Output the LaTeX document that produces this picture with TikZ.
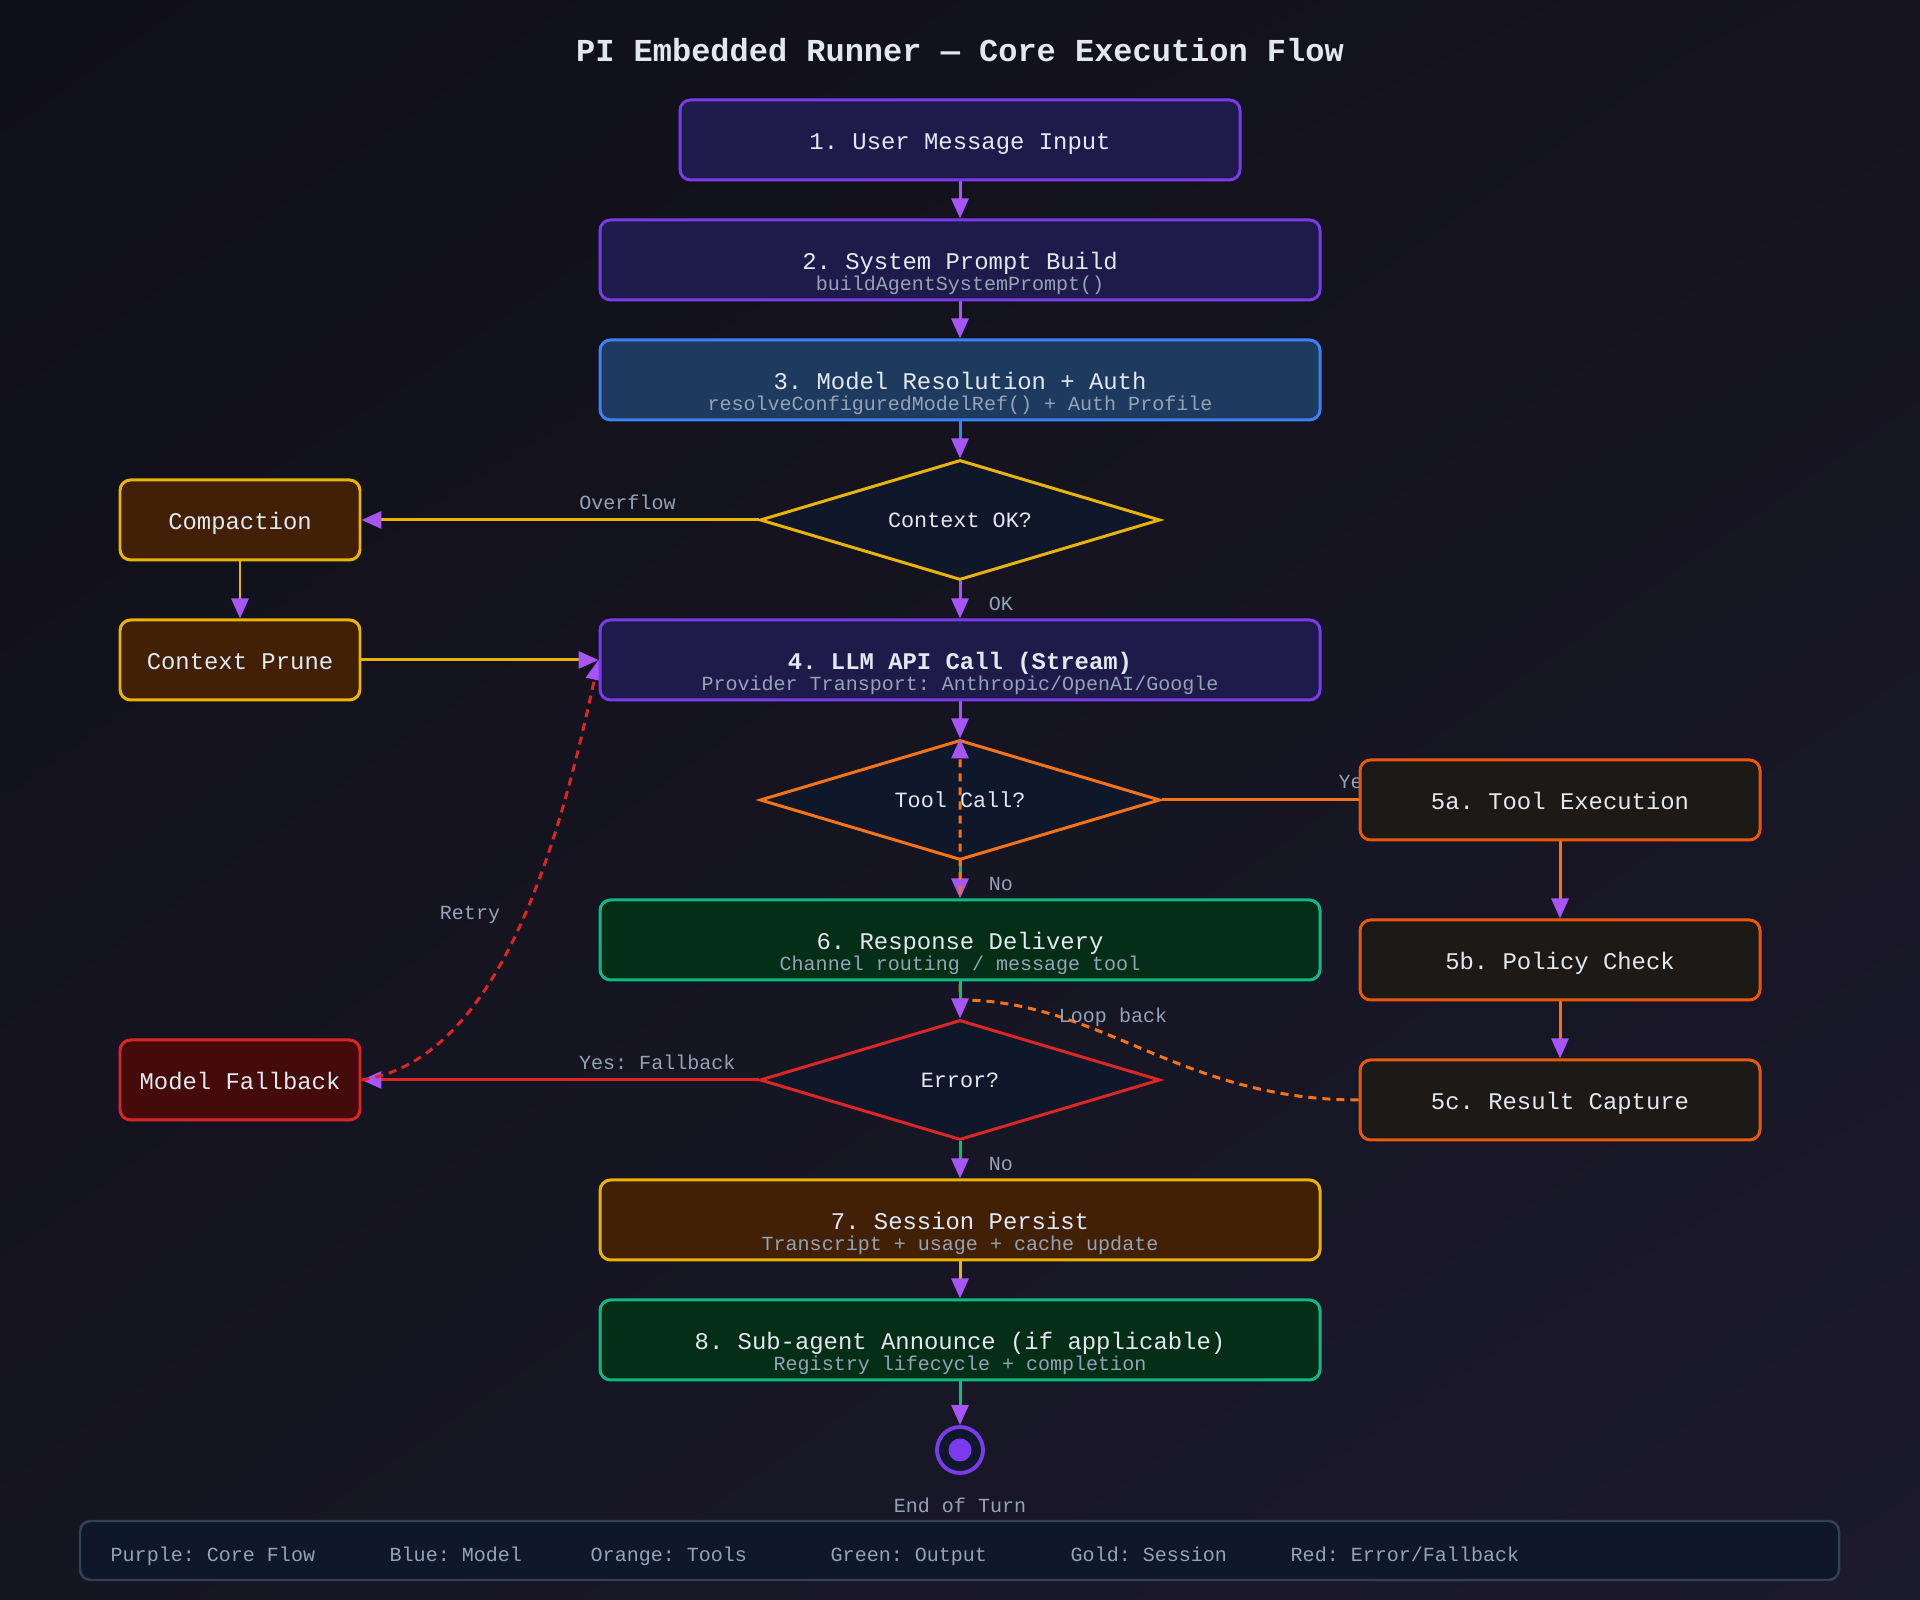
\documentclass[tikz,border=0pt]{standalone}
\usepackage{fontspec}
\setmonofont{Liberation Mono}
\usepackage{tikz}
\usetikzlibrary{shapes.geometric, arrows.meta, positioning, calc, shadings}

\definecolor{bgTL}{HTML}{0F0F17}
\definecolor{bgTR}{HTML}{15141F}
\definecolor{bgBL}{HTML}{161522}
\definecolor{bgBR}{HTML}{1C1A2D}
\definecolor{coreline}{HTML}{7C3AED}
\definecolor{corefill}{HTML}{1E1B4B}
\definecolor{modelline}{HTML}{3B82F6}
\definecolor{modelfill}{HTML}{1E3A5F}
\definecolor{toolline}{HTML}{EA580C}
\definecolor{toolfill}{HTML}{1C1917}
\definecolor{orangeE}{HTML}{F97316}
\definecolor{greenline}{HTML}{10B981}
\definecolor{greenfill}{HTML}{052E16}
\definecolor{goldline}{HTML}{EAB308}
\definecolor{goldfill}{HTML}{422006}
\definecolor{redline}{HTML}{DC2626}
\definecolor{redfill}{HTML}{450A0A}
\definecolor{decfill}{HTML}{0F172A}
\definecolor{arrowc}{HTML}{A855F7}
\definecolor{txtmain}{HTML}{E2E8F0}
\definecolor{txtsub}{HTML}{94A3B8}
\definecolor{legline}{HTML}{334155}

\pgfdeclarelayer{bg}
\pgfdeclarelayer{dec}
\pgfdeclarelayer{edges}
\pgfsetlayers{bg,dec,edges,main}

\begin{document}
\begin{tikzpicture}[
    box/.style={rectangle, rounded corners=3pt, line width=0.85pt, minimum width=7.2cm, minimum height=0.8cm, inner sep=0pt, align=center, text height=7pt, text depth=1.5pt, text=txtmain, font=\ttfamily\fontsize{6.8pt}{8pt}\selectfont},
    corebox/.style={box, draw=coreline, fill=corefill},
    modelbox/.style={box, draw=modelline, fill=modelfill},
    toolbox/.style={box, draw=toolline, fill=toolfill, minimum width=4cm},
    outbox/.style={box, draw=greenline, fill=greenfill},
    goldbox/.style={box, draw=goldline, fill=goldfill},
    failbox/.style={box, draw=redline, fill=redfill, minimum width=2.4cm},
    decision/.style={diamond, draw=#1, fill=decfill, line width=0.85pt, minimum width=4cm, minimum height=1.2cm, shape aspect=3.33, inner sep=0pt, text=txtmain, font=\ttfamily\fontsize{6.2pt}{7pt}\selectfont},
    subtxt/.style={text=txtsub, inner sep=0pt, font=\ttfamily\fontsize{5.7pt}{7pt}\selectfont},
    lbl/.style={text=txtsub, inner sep=1.5pt, text height=4.4pt, text depth=1.2pt, font=\ttfamily\fontsize{5.7pt}{7pt}\selectfont},
    flow/.style={draw=#1, line width=0.85pt, -{Triangle[length=2mm, width=1.7mm, color=arrowc]}},
    link/.style={draw=#1, line width=0.85pt},
    dashflow/.style={flow=#1, dash pattern=on 2.3pt off 1.7pt}
]
\useasboundingbox (0,0) rectangle (19.2,16);

% Background
\begin{pgfonlayer}{bg}
\shade[upper left=bgTL, upper right=bgTR, lower left=bgBL, lower right=bgBR] (0,0) rectangle (19.2,16);
\end{pgfonlayer}

\node[text=txtmain, font=\ttfamily\bfseries\fontsize{9.1pt}{11pt}\selectfont] (title) at (9.6,15.5) {PI Embedded Runner — Core Execution Flow};

% Main flow
\node[corebox, minimum width=5.6cm] (n1) at (9.6,14.6) {1. User Message Input};
\node[corebox] (n2) at (9.6,13.4) {2. System Prompt Build};
\node[subtxt] (n2s) at ([yshift=-2.55mm]n2.center) {buildAgentSystemPrompt()};
\node[modelbox] (n3) at (9.6,12.2) {3. Model Resolution + Auth};
\node[subtxt] (n3s) at ([yshift=-2.55mm]n3.center) {resolveConfiguredModelRef() + Auth Profile};
\node[corebox] (n4) at (9.6,9.4) {\textbf{4. LLM API Call (Stream)}};
\node[subtxt] (n4s) at ([yshift=-2.55mm]n4.center) {Provider Transport: Anthropic/OpenAI/Google};
\node[outbox] (n6) at (9.6,6.6) {6. Response Delivery};
\node[subtxt] (n6s) at ([yshift=-2.55mm]n6.center) {Channel routing / message tool};
\node[goldbox] (n7) at (9.6,3.8) {7. Session Persist};
\node[subtxt] (n7s) at ([yshift=-2.55mm]n7.center) {Transcript + usage + cache update};
\node[outbox] (n8) at (9.6,2.6) {8. Sub-agent Announce (if applicable)};
\node[subtxt] (n8s) at ([yshift=-2.55mm]n8.center) {Registry lifecycle + completion};

% Decisions
\begin{pgfonlayer}{dec}
\node[decision=goldline] (ctx) at (9.6,10.8) {Context OK?};
\node[decision=orangeE] (tool) at (9.6,8.0) {Tool Call?};
\node[decision=redline] (err) at (9.6,5.2) {Error?};
\end{pgfonlayer}

% Side branches
\node[goldbox, minimum width=2.4cm] (compact) at (2.4,10.8) {Compaction};
\node[goldbox, minimum width=2.4cm] (prune) at (2.4,9.4) {Context Prune};
\node[failbox] (fallback) at (2.4,5.2) {Model Fallback};
\node[toolbox] (t5a) at (15.6,8.0) {5a. Tool Execution};
\node[toolbox] (t5b) at (15.6,6.4) {5b. Policy Check};
\node[toolbox] (t5c) at (15.6,5.0) {5c. Result Capture};

% End of turn
\node[circle, draw=coreline, fill=decfill, line width=1.1pt, minimum size=0.46cm, inner sep=0pt] (endc) at (9.6,1.5) {};
\node[circle, fill=coreline, minimum size=0.23cm, inner sep=0pt] (enddot) at (endc.center) {};
\node[lbl] (endlbl) at (9.6,0.935) {End of Turn};

% Legend
\node[rectangle, rounded corners=3pt, draw=legline, fill=decfill, line width=0.7pt, minimum width=17.59cm, minimum height=0.59cm] (legend) at (9.595,0.495) {};
\foreach \x/\t [count=\i] in {1.10/{Purple: Core Flow}, 3.89/{Blue: Model}, 5.90/{Orange: Tools}, 8.30/{Green: Output}, 10.70/{Gold: Session}, 12.90/{Red: Error/Fallback}}
    \node[lbl, inner sep=0pt, anchor=west] (lg\i) at (\x,0.44) {\t};

% Connectors
\begin{pgfonlayer}{edges}
\draw[flow=arrowc] (n1) -- (n2);
\draw[flow=arrowc] (n2) -- (n3);
\draw[flow=modelline] (n3) -- (ctx);
\draw[flow=goldline] (ctx.west) -- node[lbl, pos=0.33, above, yshift=-0.1mm] (lovf) {Overflow} (compact.east);
\draw[flow=arrowc] (ctx) -- node[lbl, right=2.2mm, yshift=-0.5mm] (lok) {OK} (n4);
\draw[flow=goldline] (compact) -- (prune);
\draw[flow=goldline] (prune) -- (n4.west);
\draw[flow=arrowc] (n4) -- (tool);
\draw[link=orangeE] (tool.east) -- node[lbl, pos=0.99, above] (lyes) {Yes} (t5a.west);
\draw[flow=greenline] (tool) -- node[lbl, right=2.2mm, yshift=-0.5mm] (lno1) {No} (n6);
\draw[flow=orangeE] (t5a) -- (t5b);
\draw[flow=orangeE] (t5b) -- (t5c);
\draw[dashflow=orangeE] (t5c.west) .. controls (11.8,5.0) and (11.0,6.0) .. (9.6,6.0) -- (tool.north);
\node[lbl] (lloop) at (11.13,5.83) {Loop back};
\draw[flow=greenline] (n6) -- (err);
\draw[flow=redline] (err.west) -- node[lbl, pos=0.255, above, yshift=-0.05mm] (lfb) {Yes: Fallback} (fallback.east);
\draw[dashflow=redline] (fallback.east) .. controls (5.0,5.4) and (5.6,7.6) .. (n4.west);
\node[lbl] (lretry) at (4.70,6.86) {Retry};
\draw[flow=greenline] (err) -- node[lbl, right=2.2mm, yshift=-0.5mm] (lno2) {No} (n7);
\draw[flow=goldline] (n7) -- (n8);
\draw[flow=greenline] (n8) -- (endc);
\end{pgfonlayer}

\end{tikzpicture}
\end{document}
